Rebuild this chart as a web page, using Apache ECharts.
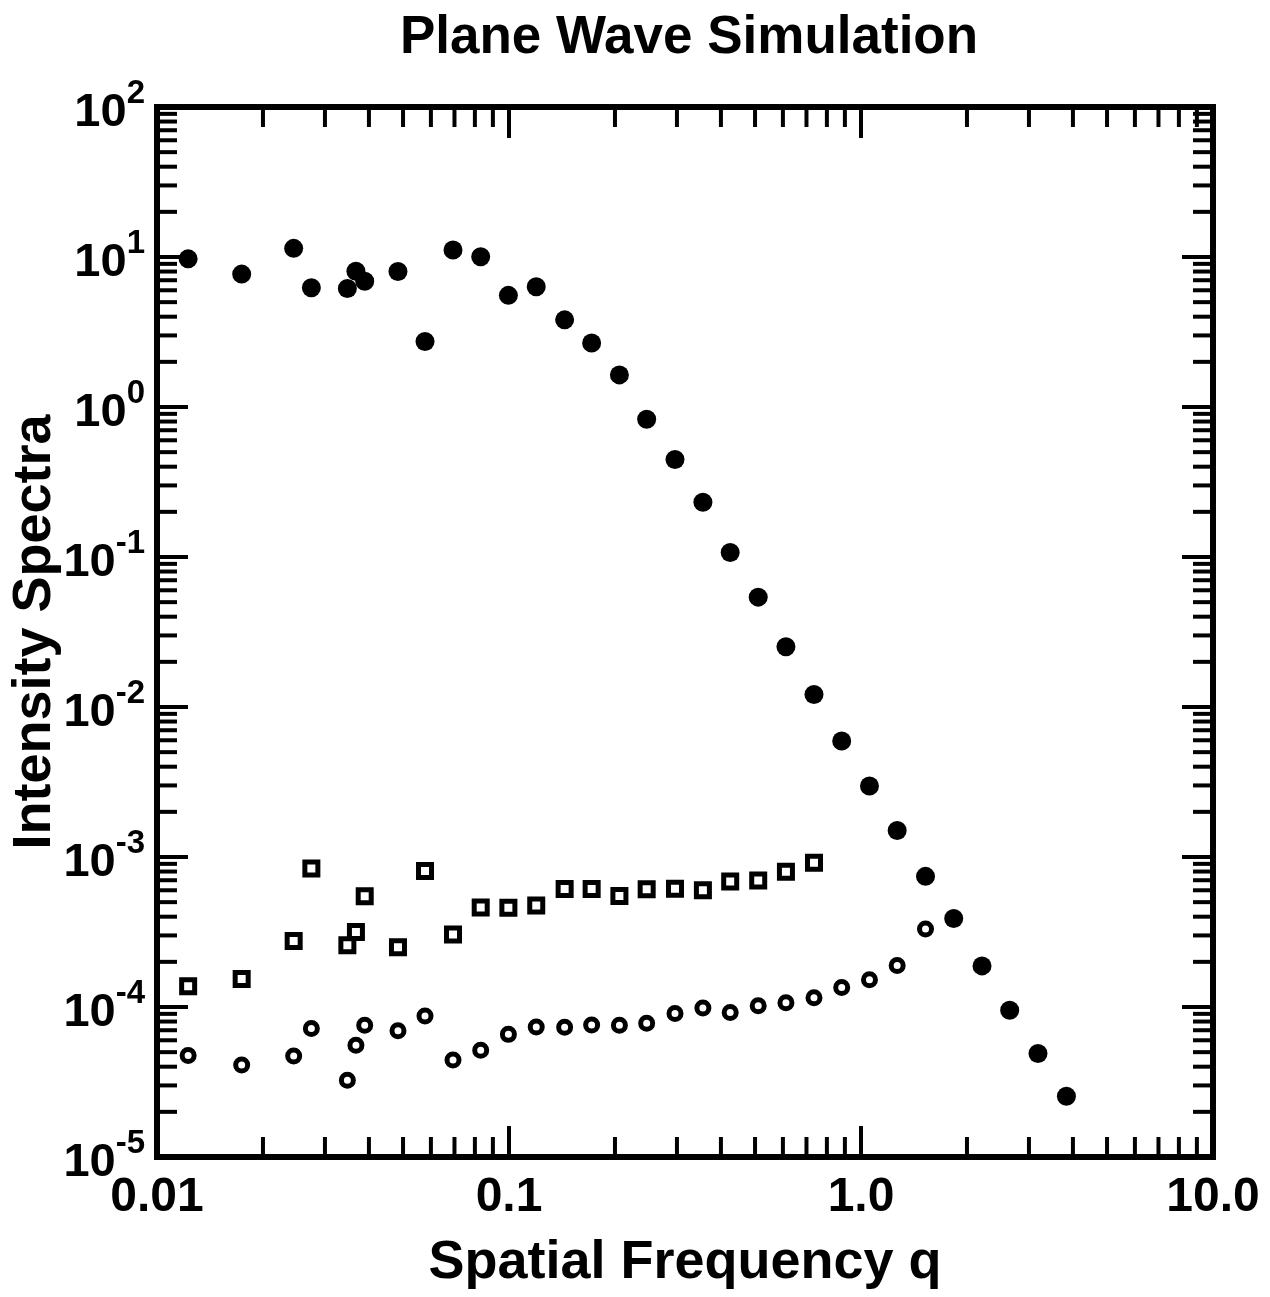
<!DOCTYPE html>
<html><head><meta charset="utf-8">
<script src="https://cdn.jsdelivr.net/npm/echarts@6.0.0/dist/echarts.min.js"></script>
<style>html,body{margin:0;padding:0;background:#fff}#c{width:1270px;height:1297px}</style>
</head><body><div id="c"></div>
<script>
// Spatial frequency q (shared abscissa)
const qValues = [0.01226, 0.0174, 0.02445, 0.02745, 0.03474, 0.03674, 0.03891, 0.04837, 0.05773, 0.06933,
  0.0831, 0.0996, 0.1195, 0.1439, 0.1717, 0.2059, 0.2461, 0.2962, 0.3555, 0.425,
  0.5105, 0.612, 0.7353, 0.8814, 1.057, 1.267, 1.525, 1.834, 2.207, 2.645, 3.183, 3.833];
// Filled circles
const filledIntensity = [9.72, 7.69, 11.42, 6.24, 6.16, 8.04, 6.89, 8.01, 2.73, 11.12,
  10.03, 5.55, 6.33, 3.81, 2.67, 1.637, 0.828, 0.447, 0.2316, 0.1073,
  0.054, 0.02525, 0.01213, 0.00594, 0.00297, 0.0015, 0.000743, 0.000389, 0.000188, 0.000095, 0.000049, 0.0000254];
// Open squares
const squareIntensity = [1.377e-4, 1.535e-4, 2.756e-4, 8.39e-4, 2.582e-4, 3.165e-4, 5.47e-4, 2.506e-4, 8.07e-4, 3.048e-4,
  4.60e-4, 4.59e-4, 4.75e-4, 6.12e-4, 6.11e-4, 5.50e-4, 6.09e-4, 6.14e-4, 6.00e-4, 6.87e-4,
  6.97e-4, 7.98e-4, 9.17e-4];
// Open circles
const openIntensity = [4.75e-5, 4.10e-5, 4.72e-5, 7.20e-5, 3.25e-5, 5.56e-5, 7.55e-5, 6.94e-5, 8.71e-5, 4.43e-5,
  5.15e-5, 6.57e-5, 7.35e-5, 7.33e-5, 7.58e-5, 7.56e-5, 7.78e-5, 9.06e-5, 9.86e-5, 9.20e-5,
  1.018e-4, 1.069e-4, 1.151e-4, 1.348e-4, 1.521e-4, 1.891e-4, 3.315e-4];

const xTickValues = [0.01, 0.1, 1, 10];
const xTickLabels = ['0.01', '0.1', '1.0', '10.0'];
const yDecadeExponents = [-5, -4, -3, -2, -1, 0, 1, 2];
const minorMultipliers = [2, 3, 4, 5, 6, 7, 8, 9];

const xMin = 0.01, xMax = 10, yMin = 1e-5, yMax = 100;

const xMinor = [];
xTickValues.slice(0, -1).forEach(d => minorMultipliers.forEach(m => xMinor.push(d * m)));
const yMajor = yDecadeExponents.map(e => Math.pow(10, e));
const yMinor = [];
yMajor.slice(0, -1).forEach(d => minorMultipliers.forEach(m => yMinor.push(d * m)));

const zip = (vals) => vals.map((v, i) => [qValues[i], v]);

const FONT = '"Liberation Sans", Arial, Helvetica, sans-serif';

function renderTicks(params, api) {
  const bl = api.coord([xMin, yMin]);
  const tr = api.coord([xMax, yMax]);
  const left = bl[0], bottom = bl[1], right = tr[0], top = tr[1];
  const MAJ = 31, MIN = 20;
  const kids = [];
  const ln = (x1, y1, x2, y2) => kids.push({type: 'line', shape: {x1, y1, x2, y2},
    style: {stroke: '#000', lineWidth: 4, lineCap: 'butt'}});
  const xt = (v, len) => { const x = api.coord([v, yMin])[0]; ln(x, bottom, x, bottom - len); ln(x, top, x, top + len); };
  const yt = (v, len) => { const y = api.coord([xMin, v])[1]; ln(left, y, left + len, y); ln(right, y, right - len, y); };
  xTickValues.forEach(v => xt(v, MAJ));
  xMinor.forEach(v => xt(v, MIN));
  yMajor.forEach(v => yt(v, MAJ));
  yMinor.forEach(v => yt(v, MIN));
  return {type: 'group', children: kids};
}

const chart = echarts.init(document.getElementById('c'), null, {renderer: 'canvas'});
chart.setOption({
  animation: false,
  backgroundColor: '#fff',
  title: {
    text: 'Plane Wave Simulation',
    left: 684, top: 7, textAlign: 'center',
    textStyle: {fontFamily: FONT, fontSize: 53, fontWeight: 'bold', color: '#000'}
  },
  grid: {left: 157, top: 107, width: 1056, height: 1050, show: true, borderColor: '#000', borderWidth: 6,
    containLabel: false, outerBoundsMode: 'none'},
  xAxis: {
    type: 'log', logBase: 10, min: xMin, max: xMax,
    name: 'Spatial Frequency q', nameLocation: 'middle', nameGap: 79, nameMoveOverlap: false,
    nameTextStyle: {fontFamily: FONT, fontSize: 54, fontWeight: 'bold', color: '#000'},
    axisLine: {show: true, lineStyle: {color: '#000', width: 6}},
    axisTick: {show: false}, minorTick: {show: false},
    splitLine: {show: false}, minorSplitLine: {show: false},
    axisLabel: {
      margin: 17, fontFamily: FONT, fontSize: 48, fontWeight: 'bold', color: '#000',
      showMinLabel: true, showMaxLabel: true,
      formatter: (v) => { const i = xTickValues.findIndex(t => Math.abs(Math.log10(t) - Math.log10(v)) < 1e-6); return i >= 0 ? xTickLabels[i] : ''; }
    }
  },
  yAxis: {
    type: 'log', logBase: 10, min: yMin, max: yMax,
    name: 'Intensity Spectra', nameLocation: 'middle', nameGap: 95, nameRotate: 90, nameMoveOverlap: false,
    nameTextStyle: {fontFamily: FONT, fontSize: 54, fontWeight: 'bold', color: '#000'},
    axisLine: {show: true, lineStyle: {color: '#000', width: 6}},
    axisTick: {show: false}, minorTick: {show: false},
    splitLine: {show: false}, minorSplitLine: {show: false},
    axisLabel: {
      margin: 12, padding: [12, 0, 0, 0], color: '#000',
      showMinLabel: true, showMaxLabel: true,
      formatter: (v) => '{b|10}{s|' + Math.round(Math.log10(v)) + '}',
      rich: {
        b: {fontFamily: FONT, fontSize: 47, fontWeight: 'bold', lineHeight: 47, verticalAlign: 'bottom', color: '#000'},
        s: {fontFamily: FONT, fontSize: 33, fontWeight: 'bold', lineHeight: 33, padding: [0, 0, 26, 0], verticalAlign: 'bottom', color: '#000'}
      }
    }
  },
  series: [
    {type: 'custom', name: 'ticks', coordinateSystem: 'cartesian2d', data: [[1, 1]], renderItem: renderTicks,
      clip: false, silent: true, z: 5},
    {type: 'scatter', name: 'filled', data: zip(filledIntensity), symbol: 'circle', symbolSize: 19,
      itemStyle: {color: '#000', opacity: 1}, z: 3},
    {type: 'scatter', name: 'squares', data: zip(squareIntensity), symbol: 'rect', symbolSize: 13,
      itemStyle: {color: '#fff', borderColor: '#000', borderWidth: 5, opacity: 1}, z: 3},
    {type: 'scatter', name: 'open', data: zip(openIntensity), symbol: 'circle', symbolSize: 12,
      itemStyle: {color: '#fff', borderColor: '#000', borderWidth: 5, opacity: 1}, z: 3}
  ]
});
</script></body></html>
